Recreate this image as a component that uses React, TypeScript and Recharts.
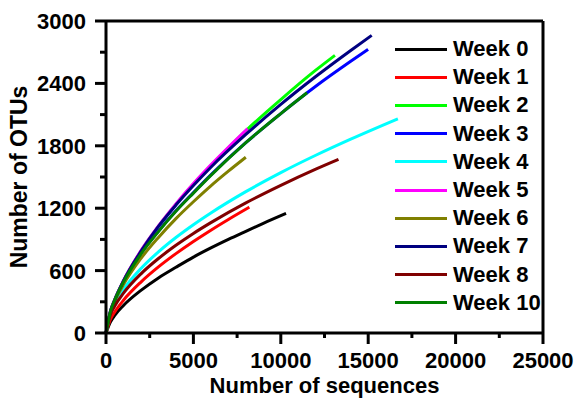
import React from 'react';
import { LineChart, Line, XAxis, YAxis, ReferenceLine, Legend } from 'recharts';

const FONT = 'Arial, "Liberation Sans", Helvetica, sans-serif';

const weekNames = ['Week 0', 'Week 1', 'Week 2', 'Week 3', 'Week 4', 'Week 5', 'Week 6', 'Week 7', 'Week 8', 'Week 10'];
const weekColors = ['#000000', '#FF0000', '#00FF00', '#0000FF', '#00FFFF', '#FF00FF', '#808000', '#000080', '#800000', '#008000'];

const week0Seq = [0, 250, 500, 1000, 2000, 3000, 4000, 5000, 6000, 7000, 8000, 9000, 10300];
const week0Otu = [0, 105, 170, 265, 410, 530, 632, 730, 818, 900, 978, 1055, 1150];

const week1Seq = [0, 250, 500, 1000, 2000, 3000, 4000, 5000, 6000, 7000, 8200];
const week1Otu = [0, 130, 202, 315, 490, 635, 763, 880, 989, 1092, 1210];

const week2Seq = [0, 250, 500, 1000, 2000, 3000, 4000, 5000, 6000, 8000, 10000, 12000, 13100];
const week2Otu = [0, 203, 318, 500, 788, 1025, 1236, 1430, 1608, 1945, 2245, 2527, 2670];

const week3Seq = [0, 250, 500, 1000, 2000, 3000, 4000, 5000, 6000, 8000, 10000, 12000, 14000, 15000];
const week3Otu = [0, 208, 320, 495, 765, 980, 1175, 1350, 1520, 1830, 2110, 2372, 2612, 2727];

const week4Seq = [0, 250, 500, 1000, 2000, 3000, 4000, 5000, 6000, 8000, 10000, 12000, 14000, 16700];
const week4Otu = [0, 191, 283, 418, 620, 780, 918, 1041, 1154, 1359, 1542, 1709, 1864, 2060];

const week5Seq = [0, 250, 500, 1000, 2000, 3000, 4000, 5000, 6000, 7000, 8100];
const week5Otu = [0, 205, 321, 504, 792, 1030, 1242, 1437, 1617, 1786, 1965];

const week6Seq = [0, 250, 500, 1000, 2000, 3000, 4000, 5000, 6000, 7000, 8000];
const week6Otu = [0, 196, 303, 466, 717, 919, 1100, 1262, 1415, 1556, 1690];

const week7Seq = [0, 250, 500, 1000, 2000, 3000, 4000, 5000, 6000, 8000, 10000, 12000, 14000, 15200];
const week7Otu = [0, 200, 315, 500, 785, 1025, 1230, 1418, 1594, 1909, 2198, 2466, 2717, 2862];

const week8Seq = [0, 250, 500, 1000, 2000, 3000, 4000, 5000, 6000, 8000, 10000, 12000, 13300];
const week8Otu = [0, 174, 259, 383, 569, 716, 843, 957, 1061, 1251, 1420, 1576, 1670];

const week10Seq = [0, 250, 500, 1000, 2000, 3000, 4000, 5000, 6000, 8000, 10000, 11500];
const week10Otu = [0, 206, 318, 492, 760, 975, 1170, 1345, 1515, 1830, 2110, 2310];

const seqTicks = [0, 2500, 5000, 7500, 10000, 12500, 15000, 17500, 20000, 22500, 25000];
const otuTicks = [0, 300, 600, 900, 1200, 1500, 1800, 2100, 2400, 2700, 3000];

const seqLists = [week0Seq, week1Seq, week2Seq, week3Seq, week4Seq, week5Seq, week6Seq, week7Seq, week8Seq, week10Seq];
const otuLists = [week0Otu, week1Otu, week2Otu, week3Otu, week4Otu, week5Otu, week6Otu, week7Otu, week8Otu, week10Otu];

const series = weekNames.map((name, i) => ({
  name,
  color: weekColors[i],
  data: seqLists[i].map((x, j) => ({ x, y: otuLists[i][j] })),
}));

const textStyle = { fontFamily: FONT, fontWeight: 700, fontSize: 22, fill: '#000' };

function XTick({ x, y, payload }: any) {
  const major = payload.value % 5000 === 0;
  return (
    <g>
      <line x1={x} x2={x} y1={y} y2={y + (major ? 11 : 5)} stroke="#000" strokeWidth={3} />
      {major && (
        <text x={x} y={y + 35} textAnchor="middle" style={textStyle}>{payload.value}</text>
      )}
    </g>
  );
}

function YTick({ x, y, payload }: any) {
  const major = payload.value % 600 === 0;
  return (
    <g>
      <line x1={x - (major ? 11 : 6)} x2={x} y1={y} y2={y} stroke="#000" strokeWidth={3} />
      {major && (
        <text x={x - 20} y={y} dy="0.36em" textAnchor="end" style={textStyle}>{payload.value}</text>
      )}
    </g>
  );
}

function LegendBox() {
  return (
    <div>
      {series.map(s => (
        <div key={s.name} style={{ display: 'flex', alignItems: 'center', height: 28.2 }}>
          <span style={{ display: 'inline-block', width: 52, height: 3, background: s.color, marginRight: 6 }} />
          <span style={{ fontFamily: FONT, fontWeight: 700, fontSize: 22, lineHeight: '28px', color: '#000' }}>{s.name}</span>
        </div>
      ))}
    </div>
  );
}

export default function App() {
  return (
    <div style={{ position: 'absolute', left: 0, top: 0, width: 577, height: 398, background: '#fff' }}>
      <LineChart width={577} height={398} margin={{ top: 21, right: 34, bottom: 0, left: 0 }}>
        <XAxis
          type="number"
          dataKey="x"
          domain={[0, 25000]}
          ticks={seqTicks}
          interval={0}
          height={65}
          tickSize={0}
          tickMargin={0}
          tickLine={false}
          tick={<XTick />}
          axisLine={{ stroke: '#000', strokeWidth: 3 }}
          label={{ value: 'Number of sequences', position: 'insideBottom', offset: 5, style: { ...textStyle, fontSize: 22 } }}
        />
        <YAxis
          type="number"
          dataKey="y"
          domain={[0, 3000]}
          ticks={otuTicks}
          interval={0}
          width={106}
          tickSize={0}
          tickMargin={0}
          tickLine={false}
          tick={<YTick />}
          axisLine={{ stroke: '#000', strokeWidth: 3 }}
          label={{ value: 'Number of OTUs', angle: -90, position: 'insideLeft', offset: 19, style: { ...textStyle, fontSize: 23, textAnchor: 'middle' } }}
        />
        <ReferenceLine y={3000} stroke="#000" strokeWidth={3} />
        <ReferenceLine x={25000} stroke="#000" strokeWidth={3} />
        {series.map(s => (
          <Line
            key={s.name}
            data={s.data}
            dataKey="y"
            name={s.name}
            type="monotone"
            stroke={s.color}
            strokeWidth={3}
            dot={false}
            activeDot={false}
            isAnimationActive={false}
          />
        ))}
        <Legend
          layout="vertical"
          align="center"
          verticalAlign="middle"
          wrapperStyle={{ left: 395, top: 35, width: 160, height: 290 }}
          content={() => <LegendBox />}
        />
      </LineChart>
    </div>
  );
}
